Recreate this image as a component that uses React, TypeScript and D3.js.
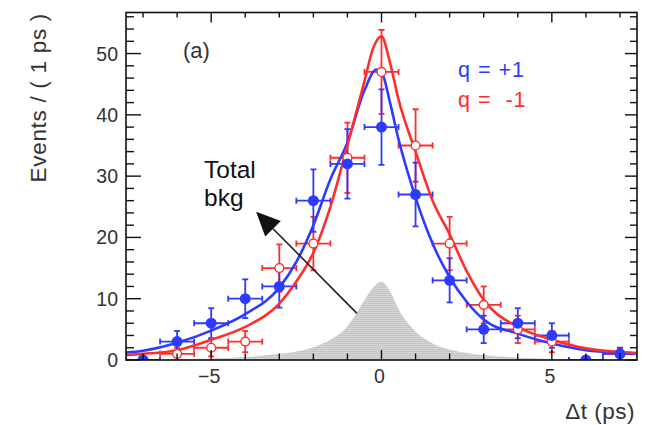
import React from "react";
import * as d3 from "d3";

// Δt bins (ps), one event count per bin for each tag
const bins = [-7, -6, -5, -4, -3, -2, -1, 0, 1, 2, 3, 4, 5, 6, 7];
const countsPlus = [0, 3, 6, 10, 12, 26, 32, 38, 27, 13, 5, 6, 4, 0, 1];
const countsMinus = [0, 1, 2, 3, 15, 19, 33, 47, 35, 19, 9, 5, 3, 0, 1];

// Fitted PDF projections, sampled along Δt
const fitPlusT = [-7.5, -7, -6, -5, -4, -3, -2.5, -2, -1.5, -1, -0.5, -0.15, 0, 0.25, 0.5, 0.75, 1, 1.5, 2, 2.5, 3, 4, 5, 6, 7, 7.5];
const fitPlusV = [1.2, 1.5, 2.8, 4.8, 7.5, 11.8, 16, 22, 29.5, 35.5, 44, 47.4, 47, 42, 36, 31, 26.5, 19, 13.5, 9.5, 6.6, 4.3, 2.7, 1.6, 1.2, 1.1];
const fitMinusT = [-7.5, -7, -6, -5, -4, -3, -2.5, -2, -1.5, -1, -0.5, -0.25, 0, 0.25, 0.5, 1, 1.5, 2, 2.5, 3, 4, 5, 6, 7, 7.5];
const fitMinusV = [0.8, 1.0, 1.6, 3.3, 5.4, 9.2, 12.8, 17.5, 25, 35, 45.5, 50.8, 52.8, 48.5, 42.5, 34, 26, 20.5, 14.5, 9.8, 5.4, 3.3, 1.9, 1.3, 1.1];

// Total background component
const bkgT = [-7.5, -6, -5, -4, -3, -2.5, -2, -1.5, -1, -0.75, -0.5, -0.25, 0, 0.25, 0.5, 0.75, 1, 1.5, 2, 2.5, 3, 4, 5, 6, 7.5];
const bkgV = [0.05, 0.1, 0.25, 0.5, 1.0, 1.4, 2.1, 3.3, 5.5, 7.5, 9.8, 11.8, 12.8, 11.2, 8.3, 6.2, 4.6, 2.7, 1.7, 1.15, 0.8, 0.4, 0.2, 0.1, 0.05];

const xMajor = [-5, 0, 5];
const xMinor = [-7, -6, -4, -3, -2, -1, 1, 2, 3, 4, 6, 7];
const yMajor = [0, 10, 20, 30, 40, 50];

const W = 651;
const H = 425;
const frame = { left: 126, right: 637, top: 12.5, bottom: 360 };
const BLUE = "#2d3bff";
const RED = "#ff2e2e";
const FONT = "'Liberation Sans', Arial, Helvetica, sans-serif";

export default function App() {
  const x = d3.scaleLinear().domain([-7.5, 7.5]).range([frame.left, frame.right]);
  const y = d3.scaleLinear().domain([0, 56.7]).range([frame.bottom, frame.top]);

  const yMinor = d3.range(2, 57, 2).filter((v) => v % 10 !== 0);

  const line = d3
    .line<[number, number]>()
    .x((d) => x(d[0]))
    .y((d) => y(d[1]))
    .curve(d3.curveMonotoneX);
  const area = d3
    .area<[number, number]>()
    .x((d) => x(d[0]))
    .y0(y(0))
    .y1((d) => y(d[1]))
    .curve(d3.curveMonotoneX);

  const plusPts = fitPlusT.map((t, i) => [t, fitPlusV[i]] as [number, number]);
  const minusPts = fitMinusT.map((t, i) => [t, fitMinusV[i]] as [number, number]);
  const bkgPts = bkgT.map((t, i) => [t, bkgV[i]] as [number, number]);

  const cap = 3;
  const errorBars = (counts: number[], color: string, key: string) =>
    bins.map((b, i) => {
      const n = counts[i];
      const e = Math.sqrt(n);
      const cx = x(b);
      const cy = y(n);
      const x0 = x(b - 0.5);
      const x1 = x(b + 0.5);
      const yt = y(n + e);
      const yb = y(Math.max(0, n - e));
      return (
        <g key={key + i} stroke={color} strokeWidth={1.8}>
          <line x1={x0} x2={x1} y1={cy} y2={cy} />
          <line x1={x0} x2={x0} y1={cy - cap} y2={cy + cap} />
          <line x1={x1} x2={x1} y1={cy - cap} y2={cy + cap} />
          {e > 0 && (
            <>
              <line x1={cx} x2={cx} y1={yt} y2={yb} />
              <line x1={cx - cap} x2={cx + cap} y1={yt} y2={yt} />
              <line x1={cx - cap} x2={cx + cap} y1={yb} y2={yb} />
            </>
          )}
        </g>
      );
    });

  // arrow from the background peak region up to the label
  const tail: [number, number] = [x(-0.72), y(7.6)];
  const tip: [number, number] = [x(-3.68), y(24.2)];
  const ang = Math.atan2(tip[1] - tail[1], tip[0] - tail[0]);
  const headLen = 24;
  const headHalf = 11;
  const base: [number, number] = [tip[0] - headLen * Math.cos(ang), tip[1] - headLen * Math.sin(ang)];
  const perp = [-Math.sin(ang), Math.cos(ang)];
  const head = [
    tip,
    [base[0] + headHalf * perp[0], base[1] + headHalf * perp[1]],
    [base[0] - headHalf * perp[0], base[1] - headHalf * perp[1]],
  ];

  return (
    <svg width={W} height={H} style={{ position: "absolute", left: 0, top: 0, background: "#fff" }} fontFamily={FONT}>
      <defs>
        <pattern id="bkgHatch" width={4} height={2} patternUnits="userSpaceOnUse">
          <rect width={4} height={2} fill="#c6c6c6" />
          <rect width={4} height={0.8} fill="#d8d8d8" />
        </pattern>
        <clipPath id="plotClip">
          <rect x={frame.left} y={frame.top} width={frame.right - frame.left} height={frame.bottom - frame.top} />
        </clipPath>
      </defs>

      <g clipPath="url(#plotClip)">
        <path d={area(bkgPts) ?? ""} fill="url(#bkgHatch)" />
        {errorBars(countsMinus, RED, "m")}
        {errorBars(countsPlus, BLUE, "p")}
        <path d={line(plusPts) ?? ""} fill="none" stroke={BLUE} strokeWidth={2.6} />
        <path d={line(minusPts) ?? ""} fill="none" stroke={RED} strokeWidth={2.6} />
        {bins.map((b, i) => (
          <circle key={"mc" + i} cx={x(b)} cy={y(countsMinus[i])} r={4.4} fill="#fff" stroke={RED} strokeWidth={1.4} />
        ))}
        {bins.map((b, i) => (
          <circle key={"pc" + i} cx={x(b)} cy={y(countsPlus[i])} r={5.5} fill={BLUE} />
        ))}
      </g>

      {/* frame */}
      <rect
        x={frame.left}
        y={frame.top}
        width={frame.right - frame.left}
        height={frame.bottom - frame.top}
        fill="none"
        stroke="#111"
        strokeWidth={1.6}
      />

      {/* x ticks, bottom and top; y ticks, left and right */}
      <g stroke="#111" strokeWidth={1.4}>
        {xMajor.map((t) => (
          <g key={"xM" + t}>
            <line x1={x(t)} x2={x(t)} y1={frame.bottom} y2={frame.bottom - 10} />
            <line x1={x(t)} x2={x(t)} y1={frame.top} y2={frame.top + 10} />
          </g>
        ))}
        {xMinor.map((t) => (
          <g key={"xm" + t}>
            <line x1={x(t)} x2={x(t)} y1={frame.bottom} y2={frame.bottom - 6.5} />
            <line x1={x(t)} x2={x(t)} y1={frame.top} y2={frame.top + 5} />
          </g>
        ))}
        {yMajor.map((v) => (
          <g key={"yM" + v}>
            <line x1={frame.left} x2={frame.left + 15} y1={y(v)} y2={y(v)} />
            <line x1={frame.right} x2={frame.right - 12} y1={y(v)} y2={y(v)} />
          </g>
        ))}
        {yMinor.map((v) => (
          <g key={"ym" + v}>
            <line x1={frame.left} x2={frame.left + 8} y1={y(v)} y2={y(v)} />
            <line x1={frame.right} x2={frame.right - 7} y1={y(v)} y2={y(v)} />
          </g>
        ))}
      </g>

      {/* tick labels */}
      <g fill="#333" fontSize={19.5}>
        {xMajor.map((t) => (
          <text key={"xl" + t} x={x(t) - 2} y={383} textAnchor="middle">
            {t < 0 ? "\u2212" + Math.abs(t) : String(t)}
          </text>
        ))}
        {yMajor.map((v) => (
          <text key={"yl" + v} x={118} y={y(v) + 7} textAnchor="end">
            {v}
          </text>
        ))}
      </g>

      {/* axis titles */}
      <text x={635} y={419} textAnchor="end" fontSize={22.5} letterSpacing={0.5} fill="#333">
        Δt (ps)
      </text>
      <text
        transform="translate(46,13) rotate(-90)"
        textAnchor="end"
        fontSize={22.5}
        letterSpacing={0.7}
        fill="#333"
        style={{ whiteSpace: "pre" }}
      >
        {"Events / ( 1 ps )"}
      </text>

      <text x={183} y={58} fontSize={22} fill="#333">
        (a)
      </text>

      <text x={458} y={77} fontSize={21.5} letterSpacing={1} fill={BLUE} style={{ whiteSpace: "pre" }}>
        {"q = +1"}
      </text>
      <text x={458} y={107} fontSize={21.5} letterSpacing={1} fill={RED} style={{ whiteSpace: "pre" }}>
        {"q =  -1"}
      </text>

      {/* background annotation */}
      <text x={204} y={178} fontSize={24.5} fill="#111">
        Total
      </text>
      <text x={204} y={206} fontSize={24.5} fill="#111">
        bkg
      </text>
      <line x1={tail[0]} y1={tail[1]} x2={base[0]} y2={base[1]} stroke="#222" strokeWidth={1.6} />
      <polygon points={head.map((p) => p.join(",")).join(" ")} fill="#111" />
    </svg>
  );
}
